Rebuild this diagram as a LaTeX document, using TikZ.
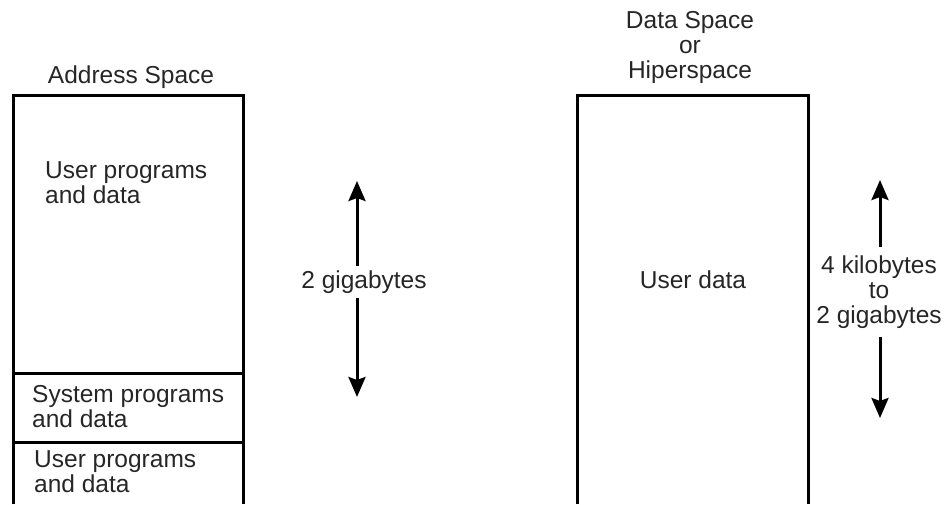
\documentclass[tikz,border=0pt]{standalone}
\usepackage{fontspec}
\setmainfont{Liberation Sans}
\usepackage{tikz}
\usetikzlibrary{positioning, arrows.meta}

\tikzset{
    lbl/.style={font=\fontsize{24.5}{25}\selectfont, inner sep=0pt, text=black!85},
    wall/.style={line width=3pt},
    sizearrow/.style={line width=3pt, -{Stealth[length=20pt,width=17pt,inset=3pt]}}
}

\begin{document}
\begin{tikzpicture}[x=1pt, y=-1pt]
    \useasboundingbox (0,0) rectangle (945,504);

    % address space
    \draw[wall] (13,504) -- (13,95) -- (243,95) -- (243,504);
    \draw[wall] (13,373) -- (243,373);
    \draw[wall] (13,442) -- (243,442);
    \node[lbl] (astitle) at (131,77) {Address Space};
    \node[lbl, anchor=west, align=left] (userhigh) at (45,183) {User programs\\and data};
    \node[lbl, anchor=west, align=left] (sysprog) at (32,407) {System programs\\and data};
    \node[lbl, anchor=west, align=left] (userlow) at (34,472) {User programs\\and data};

    \node[lbl, inner ysep=4pt] (gig) at (364,282) {2 gigabytes};
    \coordinate (gigtop) at (357,181);
    \coordinate (gigbot) at (357,397);
    \draw[sizearrow] (gig.north -| gigtop) -- (gigtop);
    \draw[sizearrow] (gig.south -| gigbot) -- (gigbot);

    % data space
    \draw[wall] (577,504) -- (577,95) -- (808,95) -- (808,504);
    \node[lbl, align=center] (dstitle) at (690,47) {Data Space\\or\\Hiperspace};
    \node[lbl] (userdata) at (693,280) {User data};

    \node[lbl, align=center, inner ysep=8pt] (range) at (879,292) {4 kilobytes\\to\\2 gigabytes};
    \coordinate (rangetop) at (880,180);
    \coordinate (rangebot) at (880,418);
    \draw[sizearrow] (range.north -| rangetop) -- (rangetop);
    \draw[sizearrow] (range.south -| rangebot) -- (rangebot);
\end{tikzpicture}
\end{document}
